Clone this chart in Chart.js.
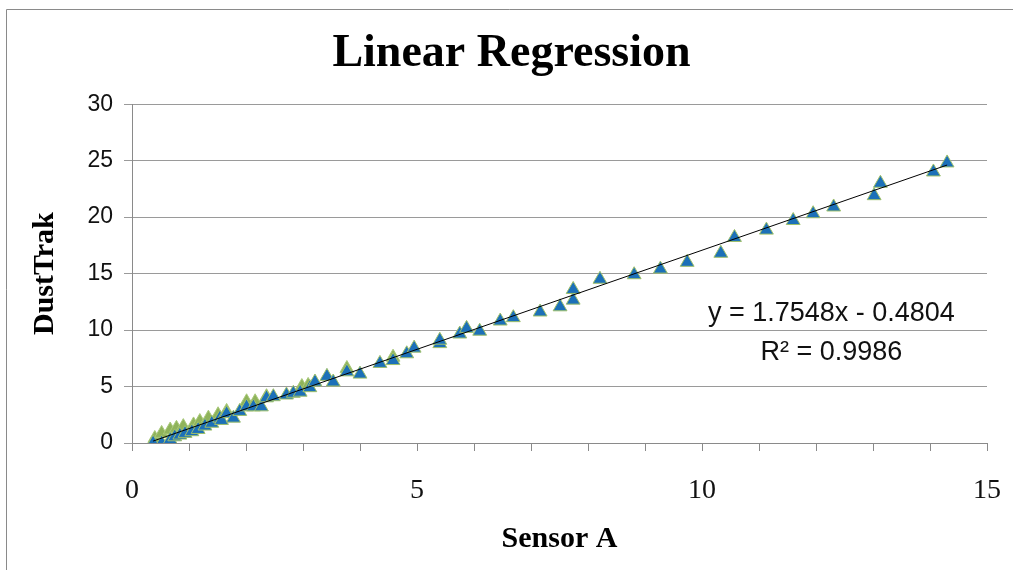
<!DOCTYPE html>
<html>
<head>
<meta charset="utf-8">
<script src="https://cdn.jsdelivr.net/npm/chart.js@4"></script>
<style>
  body { margin: 0; background: #fff; }
  #wrap { width: 1013px; height: 570px; }
</style>
</head>
<body>
<div id="wrap"><canvas id="chart" width="1013" height="570"></canvas></div>
<script>
// Sensor A vs DustTrak readings
const blueX = [0.37, 0.52, 0.67, 0.75, 0.84, 0.93, 1.05, 1.16, 1.28, 1.40, 1.54, 1.57, 1.66, 1.78, 1.89,
  2.01, 2.13, 2.27, 2.36, 2.48, 2.71, 2.83, 2.95, 3.12, 3.21, 3.42, 3.53, 3.77, 4.00, 4.35, 4.58,
  4.82, 4.95, 5.40, 5.40, 5.75, 5.87, 6.10, 6.46, 6.69, 7.16, 7.51, 7.74, 7.74, 8.21, 8.81, 9.27,
  9.74, 10.33, 10.57, 11.13, 11.60, 11.95, 12.31, 13.02, 13.13, 14.06, 14.30];
const blueY = [0.0, 0.0, 0.3, 0.55, 0.7, 0.85, 1.0, 1.2, 1.5, 1.75, 2.2, 2.0, 2.6, 2.2, 2.8,
  3.2, 3.2, 3.2, 4.0, 4.1, 4.25, 4.4, 4.5, 4.9, 5.4, 5.9, 5.4, 6.3, 6.1, 7.05, 7.3,
  7.9, 8.4, 8.8, 9.1, 9.65, 10.15, 9.9, 10.8, 11.1, 11.6, 12.06, 12.65, 13.6, 14.5, 14.9, 15.4,
  16.0, 16.8, 18.2, 18.85, 19.7, 20.3, 20.9, 21.9, 23.0, 24.0, 24.8];

const greenX = [0.40, 0.52, 0.67, 0.78, 0.90, 1.08, 1.19, 1.34, 1.51, 1.66, 2.01, 2.16, 2.36, 2.98, 3.09, 3.77, 4.58];
const greenY = [0.4, 0.85, 1.15, 1.3, 1.45, 1.6, 1.9, 2.2, 2.5, 2.8, 3.65, 3.65, 4.1, 5.0, 5.1, 6.6, 7.6];

// trendline as printed on the chart
const slope = 1.7548;
const intercept = -0.4804;
const rSquared = 0.9986;
const trendX = [0.37, 14.30];

const xTicks = [0, 5, 10, 15];
const yTicks = [0, 5, 10, 15, 20, 25, 30];

const toPoints = (xs, ys) => xs.map((x, i) => ({ x: x, y: ys[i] }));
const trendPoints = trendX.map(x => ({ x: x, y: slope * x + intercept }));

const frame = {
  id: 'frame',
  beforeDraw(chart) {
    const ctx = chart.ctx;
    ctx.save();
    ctx.strokeStyle = '#8a8a8a';
    ctx.lineWidth = 1;
    ctx.beginPath();
    ctx.moveTo(6.5, 570);
    ctx.lineTo(6.5, 9.5);
    ctx.lineTo(1013, 9.5);
    ctx.stroke();
    ctx.restore();
  }
};

const eqLabel = {
  id: 'eqLabel',
  afterDatasetsDraw(chart) {
    const ctx = chart.ctx;
    const xs = chart.scales.x, ys = chart.scales.y;
    const cx = xs.getPixelForValue(12.27);
    ctx.save();
    ctx.fillStyle = '#111';
    ctx.font = '27px "Liberation Sans", Arial, sans-serif';
    ctx.textAlign = 'center';
    ctx.textBaseline = 'middle';
    const sign = intercept < 0 ? ' - ' : ' + ';
    ctx.fillText('y = ' + slope.toFixed(4) + 'x' + sign + Math.abs(intercept).toFixed(4), cx, ys.getPixelForValue(11.5));
    ctx.fillText('R\u00B2 = ' + rSquared.toFixed(4), cx, ys.getPixelForValue(8.05));
    ctx.restore();
  }
};

new Chart(document.getElementById('chart'), {
  type: 'scatter',
  data: {
    datasets: [
      {
        type: 'line',
        data: trendPoints,
        borderColor: '#000',
        borderWidth: 1,
        pointRadius: 0,
        fill: false,
        order: 0
      },
      {
        data: toPoints(blueX, blueY),
        pointStyle: 'triangle',
        pointRadius: 8,
        backgroundColor: '#1c70b8',
        borderColor: '#9fc06a',
        borderWidth: 1,
        order: 1
      },
      {
        data: toPoints(greenX, greenY),
        pointStyle: 'triangle',
        pointRadius: 8,
        backgroundColor: '#8fb35a',
        borderColor: '#a9c97a',
        borderWidth: 1,
        order: 2
      }
    ]
  },
  options: {
    responsive: false,
    animation: false,
    layout: { padding: { left: 36, right: 26, top: 0, bottom: 0 } },
    plugins: {
      legend: { display: false },
      tooltip: { enabled: false },
      title: {
        display: true,
        text: 'Linear Regression',
        color: '#000',
        font: { family: '"Liberation Serif", "Times New Roman", serif', size: 46, weight: 'bold' },
        padding: { top: 27, bottom: 22 }
      }
    },
    scales: {
      x: {
        type: 'linear',
        min: 0,
        max: 15,
        afterFit(scale) {
          scale.height = 127;
          // tick padding is only meant to push labels down, not in from the sides
          scale.paddingLeft = 14;
          scale.paddingRight = 14;
        },
        border: { display: true, color: '#8a8a8a' },
        grid: { drawOnChartArea: false, drawTicks: true, tickLength: 8, color: '#8a8a8a' },
        ticks: {
          stepSize: 1,
          autoSkip: false,
          maxRotation: 0,
          padding: 23,
          color: '#111',
          font: { family: '"Liberation Serif", "Times New Roman", serif', size: 28 },
          callback: v => xTicks.includes(v) ? String(v) : ''
        },
        title: {
          display: true,
          text: 'Sensor A',
          color: '#000',
          font: { family: '"Liberation Serif", "Times New Roman", serif', size: 30, weight: 'bold' },
          padding: { top: 0, bottom: 13 }
        }
      },
      y: {
        min: 0,
        max: 30,
        afterFit(scale) { scale.width = 96; },
        border: { display: true, color: '#8a8a8a' },
        grid: { color: '#9a9a9a', tickLength: 8 },
        ticks: {
          stepSize: 5,
          padding: 11,
          color: '#111',
          font: { family: '"Liberation Sans", Arial, sans-serif', size: 23 },
          callback: v => yTicks.includes(v) ? String(v) : ''
        },
        title: {
          display: true,
          text: 'DustTrak',
          color: '#000',
          font: { family: '"Liberation Serif", "Times New Roman", serif', size: 30, weight: 'bold', lineHeight: 0.6 },
          padding: { top: 0, bottom: 0 }
        }
      }
    }
  },
  plugins: [frame, eqLabel]
});
</script>
</body>
</html>
